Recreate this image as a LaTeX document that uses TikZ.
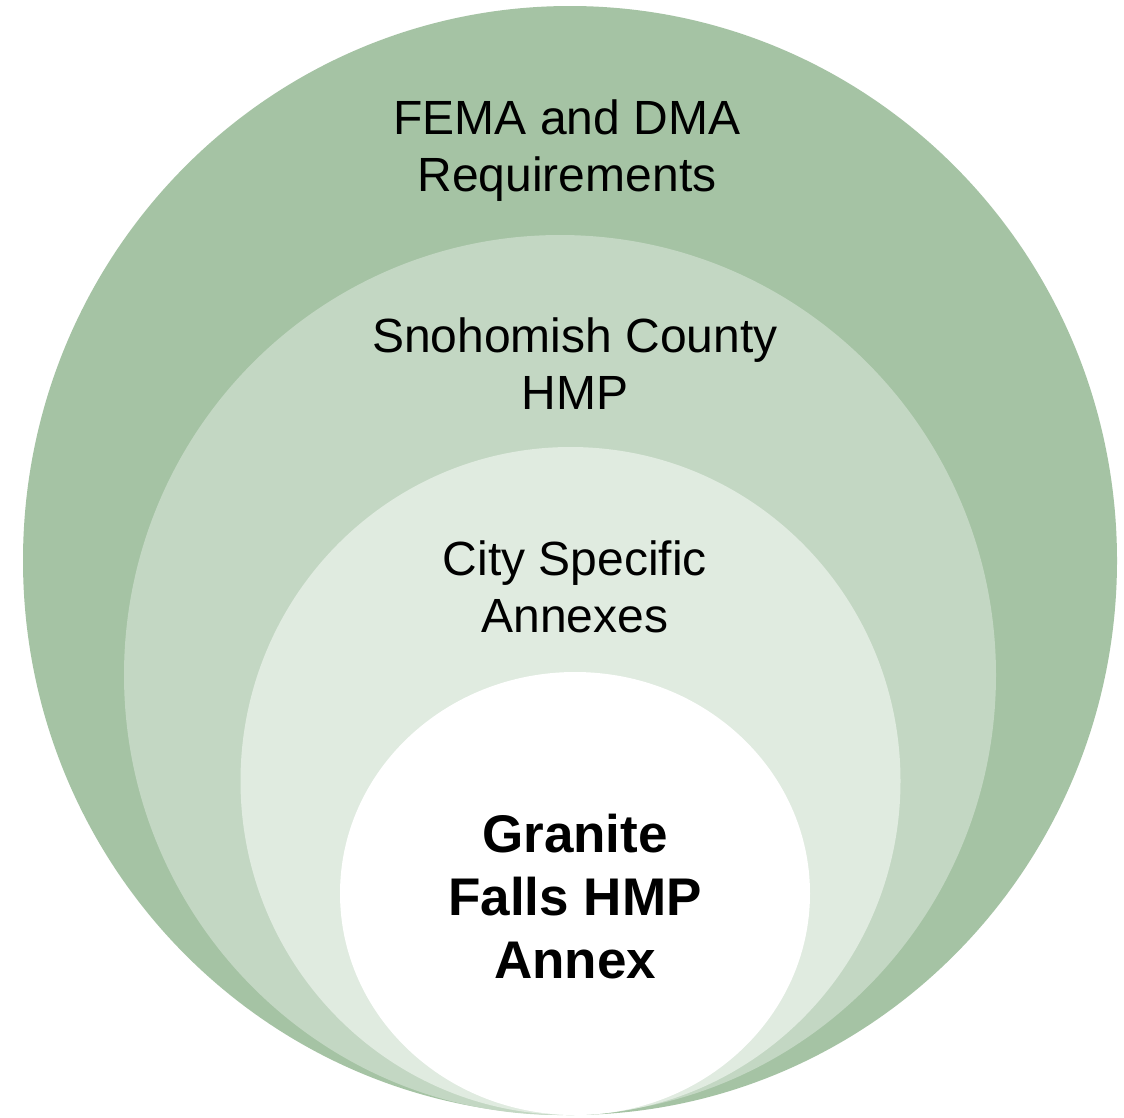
\documentclass[tikz,border=0pt]{standalone}
\usepackage{fontspec}
\setmainfont{Liberation Sans}
\usetikzlibrary{shapes.geometric}
\definecolor{ringA}{HTML}{A5C3A4}
\definecolor{ringB}{HTML}{C3D7C3}
\definecolor{ringC}{HTML}{E0EBE0}
\tikzset{
  ring/.style={ellipse, inner sep=0pt, draw=none},
  lbl/.style={align=center, inner sep=0pt, text=black,
    font=\fontsize{48}{57}\selectfont},
  blbl/.style={align=center, inner sep=0pt, text=black,
    font=\fontsize{53}{63}\selectfont\bfseries}
}
\begin{document}
\begin{tikzpicture}[x=1pt,y=-1pt]
\useasboundingbox[fill=white] (0,0) rectangle (1124,1117);
\node[ring, fill=ringA, minimum width=1094pt, minimum height=1109pt] (outer) at (570,560.5) {};
\node[ring, fill=ringB, minimum width=872pt, minimum height=880pt] (county) at (560,675) {};
\node[ring, fill=ringC, minimum width=660pt, minimum height=668pt] (city) at (570.5,781) {};
\node[ring, fill=white, minimum width=470pt, minimum height=443pt] (inner) at (575,893.5) {};
\node[lbl] (fema) at (567,151) {FEMA and DMA\\Requirements};
\node[lbl] (sc) at (575,364) {Snohomish County\\HMP};
\node[lbl] (csa) at (575,587) {City Specific\\Annexes};
\node[blbl] (gf) at (575,897) {Granite\\Falls HMP\\Annex};
\end{tikzpicture}
\end{document}
